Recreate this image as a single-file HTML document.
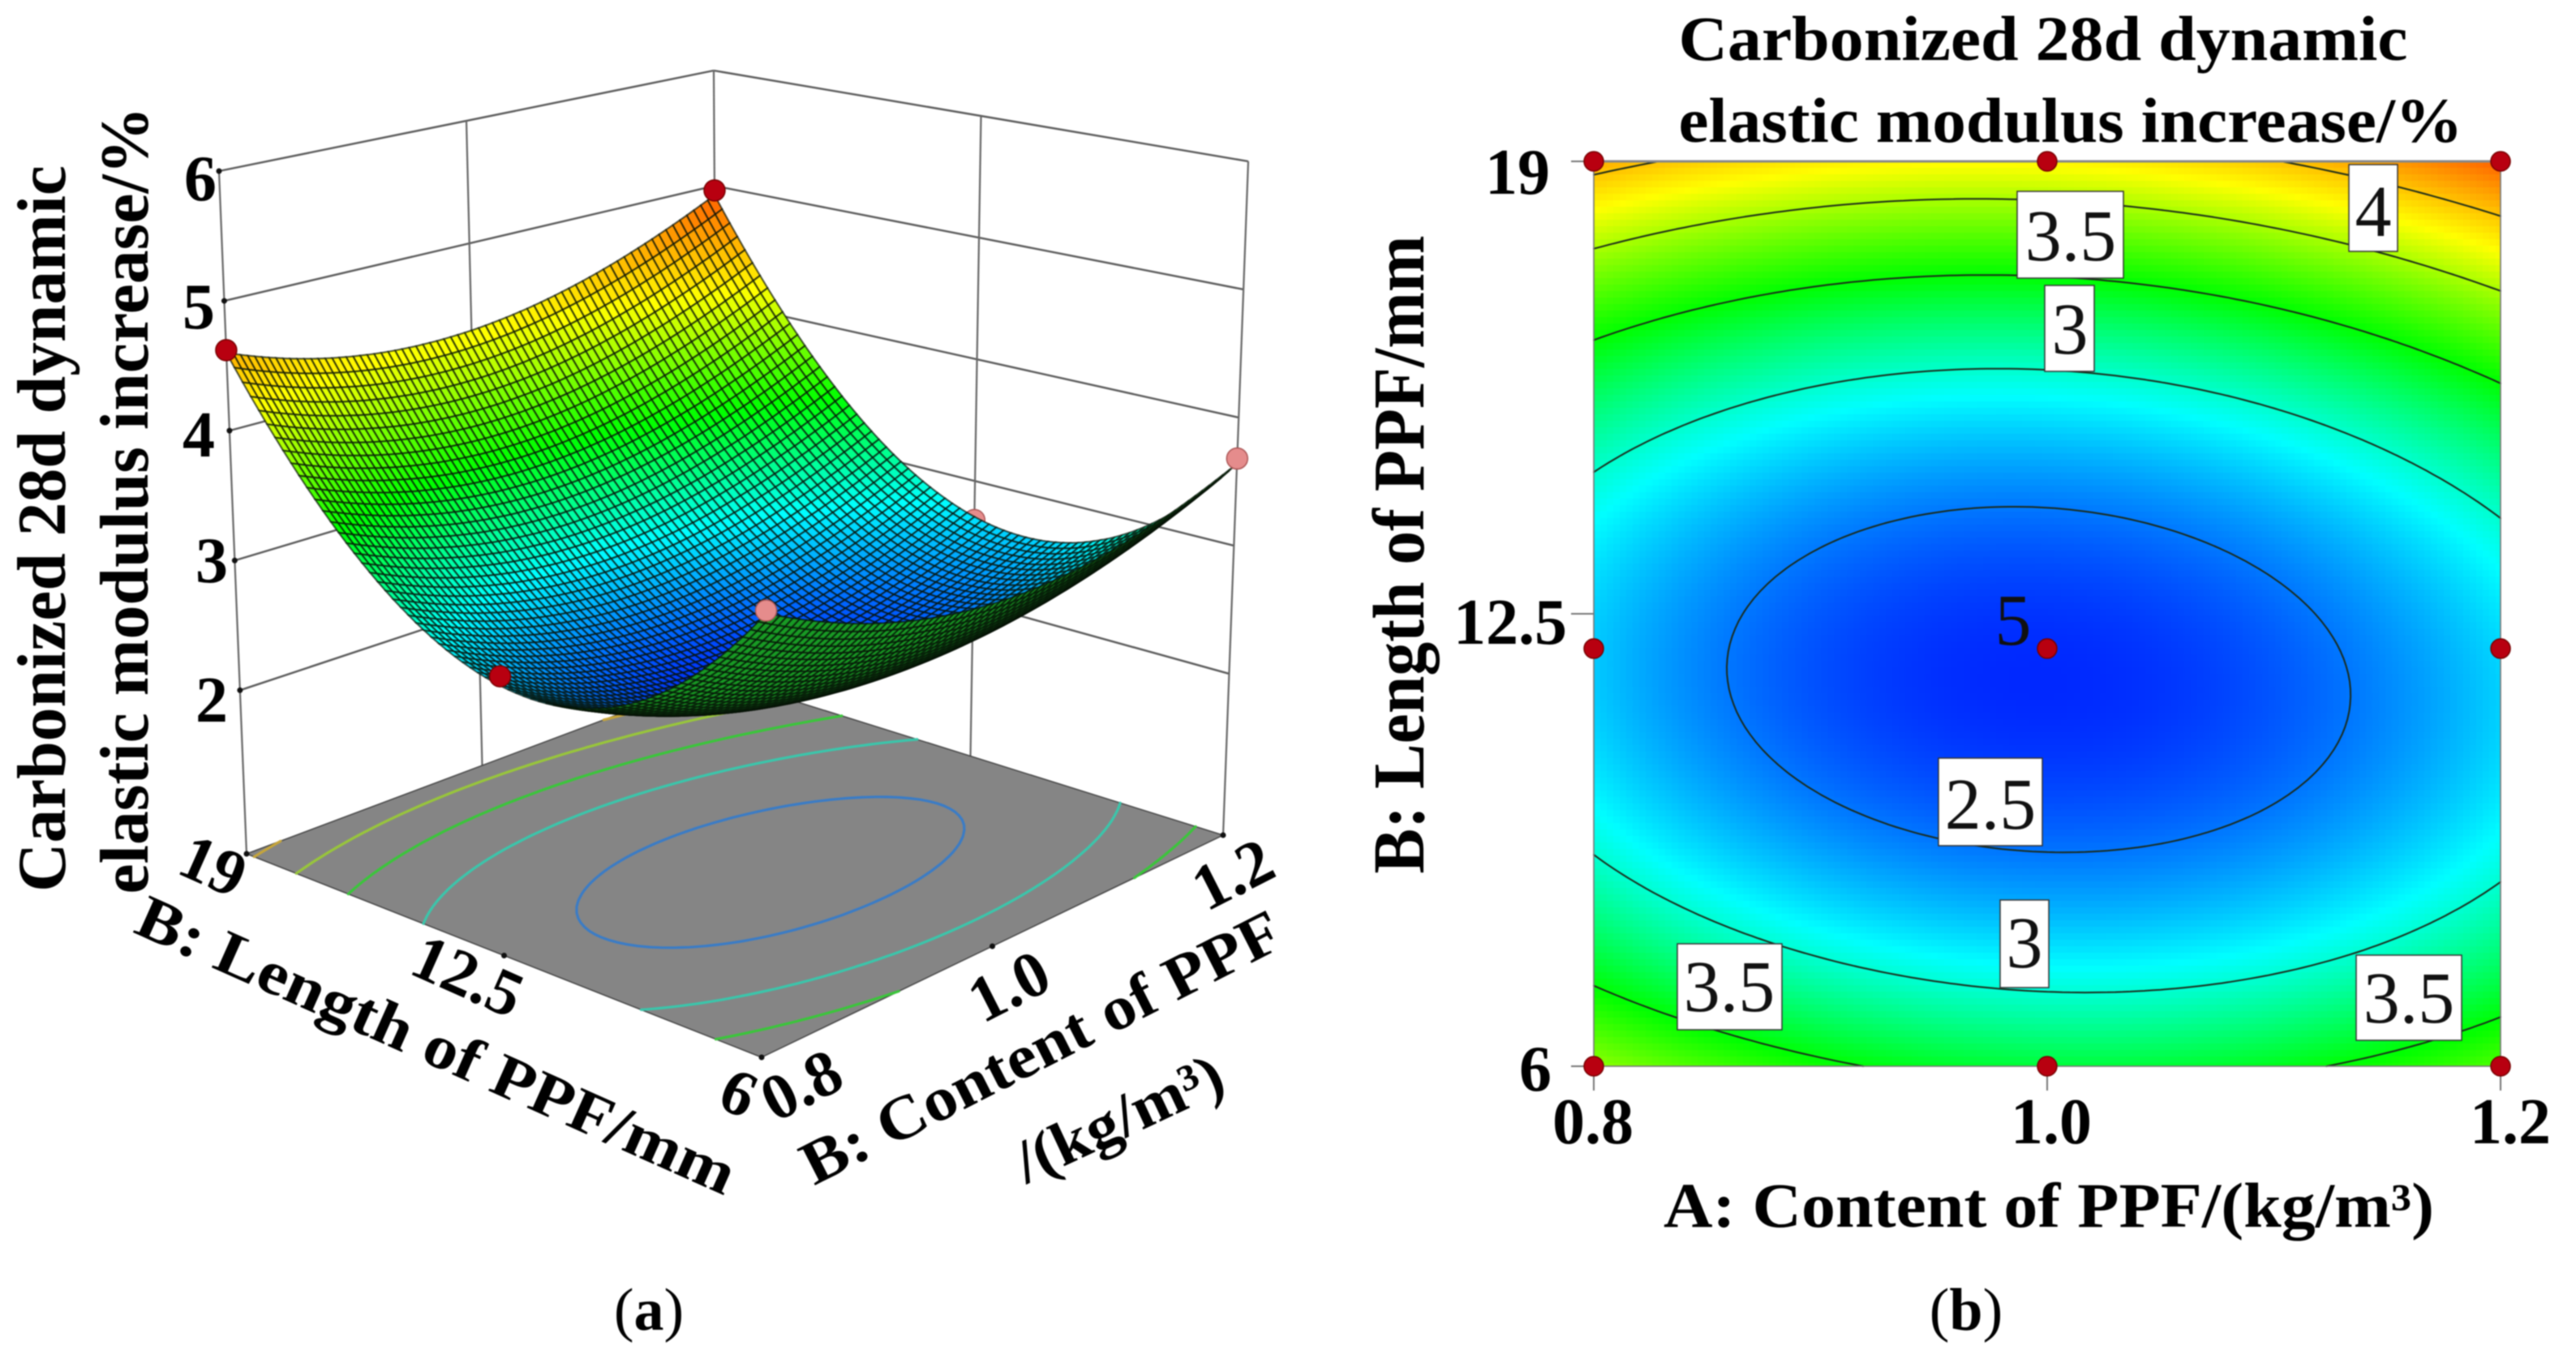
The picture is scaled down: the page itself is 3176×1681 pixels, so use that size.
<!DOCTYPE html>
<html lang="en">
<head>
<meta charset="utf-8">
<title>Carbonized 28d dynamic elastic modulus increase</title>
<style>
html,body{margin:0;padding:0;background:#fff;width:3176px;height:1681px;overflow:hidden}
svg{display:block;filter:blur(0.8px)}
text{font-family:"Liberation Serif",serif;fill:#000}
.b{font-weight:bold}
.lab{font-family:"Liberation Serif",serif;font-size:90px;text-anchor:middle;fill:#111}
.box{fill:#fff;stroke:#333;stroke-width:1.5}
</style>
</head>
<body>
<svg id="fig" xmlns="http://www.w3.org/2000/svg" width="3176" height="1681" viewBox="0 0 3176 1681">
  <rect x="0" y="0" width="3176" height="1681" fill="#fff"/>

  <g id="p3d"></g>
  <g id="p3dText">
    <text class="b" font-size="85" text-anchor="middle" textLength="896" lengthAdjust="spacingAndGlyphs" transform="translate(80,652) rotate(-90)">Carbonized 28d dynamic</text>
    <text class="b" font-size="85" text-anchor="middle" textLength="971" lengthAdjust="spacingAndGlyphs" transform="translate(182,617) rotate(-90)">elastic modulus increase/%</text>
    <text class="b" font-size="80" text-anchor="end" x="267" y="247">6</text>
    <text class="b" font-size="80" text-anchor="end" x="265" y="405">5</text>
    <text class="b" font-size="80" text-anchor="end" x="265" y="563">4</text>
    <text class="b" font-size="80" text-anchor="end" x="281" y="718">3</text>
    <text class="b" font-size="80" text-anchor="end" x="281" y="890">2</text>
    <text class="b" font-size="80" text-anchor="middle" transform="translate(252,1092) rotate(24)">19</text>
    <text class="b" font-size="80" text-anchor="middle" transform="translate(566,1228) rotate(24)">12.5</text>
    <text class="b" font-size="80" text-anchor="middle" transform="translate(900,1372) rotate(24)">6</text>
    <text class="b" font-size="80" text-anchor="middle" transform="translate(1000,1362) rotate(-27)">0.8</text>
    <text class="b" font-size="80" text-anchor="middle" transform="translate(1256,1240) rotate(-27)">1.0</text>
    <text class="b" font-size="80" text-anchor="middle" transform="translate(1532,1102) rotate(-27)">1.2</text>
    <text class="b" font-size="76" text-anchor="middle" textLength="800" lengthAdjust="spacingAndGlyphs" transform="translate(528,1312) rotate(24)">B: Length of PPF/mm</text>
    <text class="b" font-size="76" text-anchor="middle" textLength="654" lengthAdjust="spacingAndGlyphs" transform="translate(1295,1314) rotate(-27)">B: Content of PPF</text>
    <text class="b" font-size="76" text-anchor="middle" textLength="275" lengthAdjust="spacingAndGlyphs" transform="translate(1390,1402) rotate(-25)">/(kg/m³)</text>
    <text font-size="74" text-anchor="middle" x="800" y="1640">(<tspan class="b">a</tspan>)</text>
  </g>

  <g id="p2d"></g>
  <g id="p2dText">
    <text class="b" font-size="78" text-anchor="middle" textLength="899" lengthAdjust="spacingAndGlyphs" x="2519" y="74">Carbonized 28d dynamic</text>
    <text class="b" font-size="78" text-anchor="middle" textLength="967" lengthAdjust="spacingAndGlyphs" x="2553" y="175">elastic modulus increase/%</text>
    <text class="b" font-size="90" text-anchor="middle" textLength="787" lengthAdjust="spacingAndGlyphs" transform="translate(1755,684) rotate(-90)">B: Length of PPF/mm</text>
    <text class="b" font-size="80" text-anchor="end" x="1911" y="239">19</text>
    <text class="b" font-size="80" text-anchor="end" x="1932" y="794">12.5</text>
    <text class="b" font-size="80" text-anchor="end" x="1913" y="1345">6</text>
    <text class="b" font-size="80" text-anchor="middle" x="1964" y="1410">0.8</text>
    <text class="b" font-size="80" text-anchor="middle" x="2529" y="1410">1.0</text>
    <text class="b" font-size="80" text-anchor="middle" x="3095" y="1410">1.2</text>
    <text class="b" font-size="78" text-anchor="middle" textLength="950" lengthAdjust="spacingAndGlyphs" x="2526" y="1513">A: Content of PPF/(kg/m³)</text>
    <text font-size="74" text-anchor="middle" x="2424" y="1640">(<tspan class="b">b</tspan>)</text>

    <rect class="box" x="2896" y="203" width="60" height="107"/>
    <text class="lab" x="2926" y="291">4</text>
    <rect class="box" x="2487" y="236" width="131" height="107"/>
    <text class="lab" x="2553" y="321">3.5</text>
    <rect class="box" x="2521" y="352" width="61" height="106"/>
    <text class="lab" x="2552" y="436">3</text>
    <text class="lab" x="2482" y="795">5</text>
    <rect class="box" x="2390" y="935" width="128" height="108"/>
    <text class="lab" x="2454" y="1022">2.5</text>
    <rect class="box" x="2466" y="1110" width="60" height="108"/>
    <text class="lab" x="2496" y="1193">3</text>
    <rect class="box" x="2068" y="1164" width="129" height="106"/>
    <text class="lab" x="2132" y="1247">3.5</text>
    <rect class="box" x="2905" y="1178" width="130" height="105"/>
    <text class="lab" x="2970" y="1261">3.5</text>
  </g>
  <g id="p2dMarks"></g>
</svg>

<script>
// Response values: one row per fibre length, one column per content
const contentValues = [0.8, 0.9, 1.0, 1.1, 1.2];
const lengthValues = [6, 9.25, 12.5, 15.75, 19];
const responseAtLength6 = [3.94, 3.55, 3.38, 3.45, 3.75];
const responseAtLength9 = [2.96, 2.60, 2.47, 2.57, 2.90];
const responseAtLength12 = [2.75, 2.41, 2.31, 2.45, 2.81];
const responseAtLength16 = [3.29, 2.99, 2.92, 3.09, 3.48];
const responseAtLength19 = [4.60, 4.33, 4.29, 4.49, 4.92];
const contourLevels = [2.5, 3, 3.5, 4, 4.5];
const colorScaleValues = [2.25, 2.88, 3.5, 4.25, 5.15];
const zTicks = [2, 3, 4, 5, 6];

// Design points on the contour plot
const designContent = [0.8, 1.0, 1.2, 0.8, 1.0, 1.2, 0.8, 1.0, 1.2];
const designLength = [19, 19, 19, 12, 12, 12, 6, 6, 6];

// Design points visible in the 3D plot
const point3dContent = [0.8, 1.2, 1.2, 0.8, 0.8];
const point3dLength = [19, 19, 6, 6, 12.5];
const point3dResponse = [4.62, 4.96, 3.68, 3.96, 2.82];
const point3dAboveSurface = [1, 1, 0, 0, 1];
const hiddenPointContent = [1.2];
const hiddenPointLength = [12.5];
const hiddenPointResponse = [2.68];

const SVGNS = 'http://www.w3.org/2000/svg';
const responseTable = [responseAtLength6, responseAtLength9, responseAtLength12, responseAtLength16, responseAtLength19];
const colorScaleRgb = [[0,30,255],[0,255,255],[0,255,0],[255,255,0],[255,40,0]];

function lagrangeWeights(xs, x) {
  return xs.map(function (xi, i) {
    let w = 1;
    xs.forEach(function (xj, j) { if (j !== i) w *= (x - xj) / (xi - xj); });
    return w;
  });
}
function response(a, b) {
  const wa = lagrangeWeights(contentValues, a);
  const wb = lagrangeWeights(lengthValues, b);
  let s = 0;
  for (let j = 0; j < lengthValues.length; j++) {
    for (let i = 0; i < contentValues.length; i++) s += wa[i] * wb[j] * responseTable[j][i];
  }
  return s;
}
function colorRgb(v) {
  const vs = colorScaleValues;
  if (v <= vs[0]) return colorScaleRgb[0];
  for (let i = 1; i < vs.length; i++) {
    if (v <= vs[i]) {
      const t = (v - vs[i - 1]) / (vs[i] - vs[i - 1]);
      const c0 = colorScaleRgb[i - 1], c1 = colorScaleRgb[i];
      return [c0[0] + (c1[0] - c0[0]) * t, c0[1] + (c1[1] - c0[1]) * t, c0[2] + (c1[2] - c0[2]) * t];
    }
  }
  return colorScaleRgb[colorScaleRgb.length - 1];
}
function colorCss(v) {
  const c = colorRgb(v);
  return 'rgb(' + Math.round(c[0]) + ',' + Math.round(c[1]) + ',' + Math.round(c[2]) + ')';
}
function make(tag, parent) {
  const el = document.createElementNS(SVGNS, tag);
  parent.appendChild(el);
  return el;
}
function setAll(el, props) {
  Object.keys(props).forEach(function (k) { el.setAttribute(k, props[k]); });
}

const aMin = 0.8, aMax = 1.2, bMin = 6, bMax = 19;

// ---------- 3D axis functions ----------
const zFloor = 0.74, zTop = 6;
const floorCorners = { f: [939,1304], r: [1508,1030], l: [304,1053], k: [885,835] };
const topCorners = { f: [948,404], r: [1539,199], l: [270,211], k: [880,87] };
function project(a, b, z) {
  const u = (a - aMin) / (aMax - aMin), v = (b - bMin) / (bMax - bMin), w = (z - zFloor) / (zTop - zFloor);
  const out = [0, 0];
  for (let d = 0; d < 2; d++) {
    const fl = (1-u)*(1-v)*floorCorners.f[d] + u*(1-v)*floorCorners.r[d] + (1-u)*v*floorCorners.l[d] + u*v*floorCorners.k[d];
    const tp = (1-u)*(1-v)*topCorners.f[d] + u*(1-v)*topCorners.r[d] + (1-u)*v*topCorners.l[d] + u*v*topCorners.k[d];
    out[d] = fl + (tp - fl) * w;
  }
  return out;
}
// Small perspective correction for the surface on the right-hand side of the box
function surfaceHeightOffset(a, b) {
  const u = (a - aMin) / (aMax - aMin), v = (b - bMin) / (bMax - bMin);
  return -0.11 * u * (1 - v * v * v * v);
}

// Marching squares shared by both panels; returns segments in data space
function contourSegments(level, n) {
  const segs = [];
  const grid = [];
  for (let j = 0; j <= n; j++) {
    const row = [];
    for (let i = 0; i <= n; i++) {
      row.push(response(aMin + (aMax - aMin) * i / n, bMin + (bMax - bMin) * j / n));
    }
    grid.push(row);
  }
  function pt(i0, j0, i1, j1) {
    const v0 = grid[j0][i0], v1 = grid[j1][i1];
    const t = (level - v0) / (v1 - v0);
    const i = i0 + (i1 - i0) * t, j = j0 + (j1 - j0) * t;
    return [aMin + (aMax - aMin) * i / n, bMin + (bMax - bMin) * j / n];
  }
  for (let j = 0; j < n; j++) {
    for (let i = 0; i < n; i++) {
      const cross = [];
      if ((grid[j][i] - level) * (grid[j][i+1] - level) < 0) cross.push(pt(i, j, i+1, j));
      if ((grid[j][i+1] - level) * (grid[j+1][i+1] - level) < 0) cross.push(pt(i+1, j, i+1, j+1));
      if ((grid[j+1][i] - level) * (grid[j+1][i+1] - level) < 0) cross.push(pt(i, j+1, i+1, j+1));
      if ((grid[j][i] - level) * (grid[j+1][i] - level) < 0) cross.push(pt(i, j, i, j+1));
      if (cross.length >= 2) segs.push([cross[0], cross[1]]);
      if (cross.length === 4) segs.push([cross[2], cross[3]]);
    }
  }
  return segs;
}

// ---------- 3D plot ----------
(function draw3d() {
  const root = document.getElementById('p3d');
  function wallLine(p, q, w, color) {
    const el = make('line', root);
    
    
    setAll(el, { x1: p[0], y1: p[1], x2: q[0], y2: q[1], stroke: color, 'stroke-width': w });
  }
  zTicks.forEach(function (z) {
    wallLine(project(aMin, bMax, z), project(aMax, bMax, z), 2.4, '#5a5a5a');
    wallLine(project(aMax, bMax, z), project(aMax, bMin, z), 2.4, '#5a5a5a');
  });
  const aMid = (aMin + aMax) / 2, bMid = (bMin + bMax) / 2;
  [[aMin,bMax],[aMid,bMax],[aMax,bMax],[aMax,bMid],[aMax,bMin]].forEach(function (c) {
    wallLine(project(c[0], c[1], zFloor), project(c[0], c[1], zTop), 2.2, '#666');
  });

  const floorPts = [project(aMin,bMin,zFloor), project(aMax,bMin,zFloor), project(aMax,bMax,zFloor), project(aMin,bMax,zFloor)];
  const floor = make('polygon', root);
  
  
  setAll(floor, { points: floorPts.map(function (p) { return p.join(','); }).join(' '), fill: '#858585', stroke: '#444', 'stroke-width': 1.5 });

  contourLevels.forEach(function (level) {
    const segs = contourSegments(level, 70);
    let d = '';
    segs.forEach(function (s) {
      const p = project(s[0][0], s[0][1], zFloor), q = project(s[1][0], s[1][1], zFloor);
      d += 'M' + p[0].toFixed(1) + ' ' + p[1].toFixed(1) + 'L' + q[0].toFixed(1) + ' ' + q[1].toFixed(1);
    });
    const c = colorRgb(level);
    const path = make('path', root);
    
    
    setAll(path, { d: d, fill: 'none', 'stroke-width': 3.2, 'stroke-linecap': 'round',
      stroke: 'rgb(' + Math.round(c[0]*.55+58) + ',' + Math.round(c[1]*.55+58) + ',' + Math.round(c[2]*.55+58) + ')' });
  });

  function marker(a, b, z, above) {
    const p = project(a, b, z);
    const m = make('ellipse', root);
    
    
    setAll(m, { cx: p[0], cy: p[1], rx: 13, ry: 13, fill: above ? '#b80010' : '#e58c8c', stroke: above ? '#700' : '#a55', 'stroke-width': 1.5 });
  }
  hiddenPointContent.forEach(function (a, i) { marker(a, hiddenPointLength[i], hiddenPointResponse[i], false); });

  const N = 70;
  const grid = [];
  for (let j = 0; j <= N; j++) {
    const row = [];
    for (let i = 0; i <= N; i++) {
      const a = aMin + (aMax - aMin) * i / N, b = bMin + (bMax - bMin) * j / N, z = response(a, b);
      row.push({ z: z, p: project(a, b, z + surfaceHeightOffset(a, b)) });
    }
    grid.push(row);
  }
  function signedArea(pts) {
    let s = 0;
    for (let i = 0; i < pts.length; i++) {
      const p = pts[i], q = pts[(i + 1) % pts.length];
      s += p[0] * q[1] - q[0] * p[1];
    }
    return s;
  }
  const floorSign = signedArea(floorPts) > 0 ? 1 : -1;
  const meshGroup = make('g', root);
  
  
  for (let j = N - 1; j >= 0; j--) {
    for (let i = N - 1; i >= 0; i--) {
      const c = [grid[j][i], grid[j][i+1], grid[j+1][i+1], grid[j+1][i]];
      const pts = c.map(function (o) { return o.p; });
      const top = signedArea(pts) * floorSign > 0;
      const mean = (c[0].z + c[1].z + c[2].z + c[3].z) / 4;
      const q = make('polygon', meshGroup);
      
      
      setAll(q, { points: pts.map(function (p) { return p[0].toFixed(1) + ',' + p[1].toFixed(1); }).join(' '),
        fill: top ? colorCss(mean) : '#189a24', stroke: '#061006', 'stroke-opacity': 0.72, 'stroke-width': 2 });
    }
  }

  point3dContent.forEach(function (a, i) {
    marker(a, point3dLength[i], point3dResponse[i], !!point3dAboveSurface[i]);
  });

  zTicks.forEach(function (z) {
    const p = project(aMin, bMax, z);
    const t = make('circle', root);
    
    
    setAll(t, { cx: p[0], cy: p[1], r: 3.5, fill: '#111' });
  });
  [[aMin,bMax],[aMin,bMid],[aMin,bMin],[aMid,bMin],[aMax,bMin]].forEach(function (c) {
    const p = project(c[0], c[1], zFloor);
    const t = make('circle', root);
    
    
    setAll(t, { cx: p[0], cy: p[1], r: 3.5, fill: '#111' });
  });
})();

// ---------- Contour plot ----------
function xScale(a) { return 1965 + 1118 * (a - aMin) / (aMax - aMin); }
function yScale(b) { return 1315 - 1116 * (b - bMin) / (bMax - bMin); }

(function draw2d() {
  const root = document.getElementById('p2d');
  const cell = 8;
  const heat = make('g', root);
  
  
  const nx = Math.ceil(1118 / cell), ny = Math.ceil(1116 / cell);
  for (let j = 0; j < ny; j++) {
    for (let i = 0; i < nx; i++) {
      const a = aMin + (aMax - aMin) * (i + .5) / nx, b = bMax - (bMax - bMin) * (j + .5) / ny;
      const r = make('rect', heat);
      
      
      setAll(r, { x: 1965 + i * cell, y: 199 + j * cell, width: i === nx - 1 ? 1118 - i * cell : cell + 1, height: j === ny - 1 ? 1116 - j * cell : cell + 1, fill: colorCss(response(a, b)) });
    }
  }
  contourLevels.forEach(function (level) {
    const segs = contourSegments(level, 120);
    let d = '';
    segs.forEach(function (s) {
      d += 'M' + xScale(s[0][0]).toFixed(1) + ' ' + yScale(s[0][1]).toFixed(1) + 'L' + xScale(s[1][0]).toFixed(1) + ' ' + yScale(s[1][1]).toFixed(1);
    });
    const path = make('path', root);
    
    
    setAll(path, { d: d, fill: 'none', stroke: '#1a2a1a', 'stroke-width': 2, 'stroke-linecap': 'round' });
  });

  const border = make('rect', root);
  
  
  setAll(border, { x: 1965, y: 199, width: 1118, height: 1116, fill: 'none', stroke: '#777', 'stroke-width': 1.6 });
  const topEdge = make('line', root);
  
  
  setAll(topEdge, { x1: 1965, y1: 199, x2: 3083, y2: 199, stroke: '#888', 'stroke-width': 3 });

  [6, 12.5, 19].forEach(function (b) {
    const t = make('line', root);
    
    
    setAll(t, { x1: 1937, x2: 1965, y1: yScale(b), y2: yScale(b), stroke: '#777', 'stroke-width': 2 });
  });
  [0.8, 1.0, 1.2].forEach(function (a) {
    const t = make('line', root);
    
    
    setAll(t, { x1: xScale(a), x2: xScale(a), y1: 1315, y2: 1345, stroke: '#777', 'stroke-width': 2 });
  });

  const marks = document.getElementById('p2dMarks');
  designContent.forEach(function (a, i) {
    const m = make('ellipse', marks);
    
    
    setAll(m, { cx: xScale(a), cy: yScale(designLength[i]), rx: 12, ry: 12, fill: '#b80010', stroke: '#700', 'stroke-width': 1.5 });
  });
})();
</script>
</body>
</html>
